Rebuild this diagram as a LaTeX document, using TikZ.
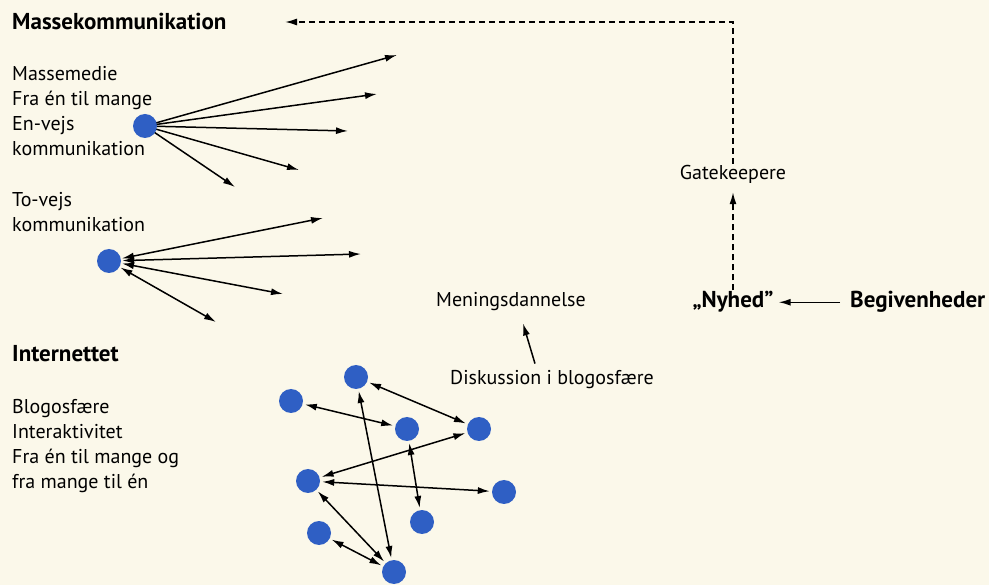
\documentclass[tikz,border=0pt]{standalone}
\usepackage{fontspec}
\setmainfont{PT Sans}
\usetikzlibrary{arrows.meta}
\tikzset{>={Latex[length=12pt,width=7pt]}}
\definecolor{papir}{HTML}{FBF8EA}
\definecolor{prikblaa}{HTML}{2F5FC4}
\tikzset{
	prik/.style={circle,fill=prikblaa,inner sep=0pt,minimum size=24pt},
	tekst/.style={inner sep=0pt,align=left,font=\fontsize{20}{25}\selectfont},
	fed/.style={inner sep=0pt,font=\fontsize{23}{25}\selectfont\bfseries},
	pil/.style={line width=1.5pt},
	stiplet/.style={line width=1.5pt,dash pattern=on 6pt off 4pt}
}

\begin{document}
\begin{tikzpicture}[x=1pt,y=-1pt]
	\fill[papir](0,0) rectangle (989,585);
	\useasboundingbox (0,0) rectangle (989,585);

	% tekster til venstre
	\node[fed,anchor=base west] (masse) at (12,30) {Massekommunikation};
	\node[tekst,anchor=north west] (medie) at (12,66) {Massemedie\\Fra én til mange\\En-vejs\\kommunikation};
	\node[tekst,anchor=north west] (tovejs) at (12,192) {To-vejs\\kommunikation};
	\node[fed,anchor=base west] (internet) at (12,362) {Internettet};
	\node[tekst,anchor=north west] (blog) at (12,399) {Blogosfære\\Interaktivitet\\Fra én til mange og\\fra mange til én};

	% en-vejs
	\coordinate (e1) at (397,55);
	\coordinate (e2) at (377,94);
	\coordinate (e3) at (348,131);
	\coordinate (e4) at (299,170);
	\coordinate (e5) at (235,187);
	\foreach \e in {e1,e2,e3,e4,e5} {
		\draw[pil][->](145,126) -- (\e);
	}
	\node[prik] (hub1) at (145,126) {};

	% to-vejs
	\node[prik] (hub2) at (109,261) {};
	\coordinate (t1) at (323,218);
	\coordinate (t2) at (361,254);
	\coordinate (t3) at (283,294);
	\coordinate (t4) at (216,322);
	\foreach \t in {t1,t2,t3,t4} {
		\draw[pil][<->,shorten <=1pt](hub2) -- (\t);
	}

	% internettet
	\node[prik] (a) at (356,377) {};
	\node[prik] (b) at (291,401) {};
	\node[prik] (c) at (407,429) {};
	\node[prik] (d) at (479,429) {};
	\node[prik] (e) at (308,481) {};
	\node[prik] (f) at (504,492) {};
	\node[prik] (g) at (422,522) {};
	\node[prik] (h) at (319,533) {};
	\node[prik] (i) at (394,572) {};
	\foreach \u/\v in {a/d,b/c,d/e,e/f,c/g,a/i,e/i,h/i} {
		\draw[pil][<->,shorten <=2pt,shorten >=2pt](\u) -- (\v);
	}

	% nyhed
	\node[tekst,anchor=base] (mening) at (511,307) {Meningsdannelse};
	\node[tekst,anchor=base] (diskussion) at (552,385) {Diskussion i blogosfære};
	\draw[pil][->]([shift={(-17,-7)}]diskussion.north) -- ([shift={(12,12)}]mening.south);

	\node[fed,anchor=base] (nyhed) at (733,308) {„Nyhed”};
	\node[fed,anchor=base west] (begiv) at (850,308) {Begivenheder};
	\node[tekst,anchor=base] (gate) at (733,180) {Gatekeepere};
	\draw[pil][->,shorten <=10pt,shorten >=5pt](begiv.west) -- (nyhed.east |- begiv.west);

	\coordinate (hjorne) at (733,22);
	\coordinate (spids) at (285,22);
	\draw[stiplet][->,shorten <=1pt,shorten >=8pt](nyhed.north) -- (gate.south);
	\draw[stiplet][->,shorten <=2pt](gate.north) -- (hjorne) -- (spids);
\end{tikzpicture}
\end{document}
